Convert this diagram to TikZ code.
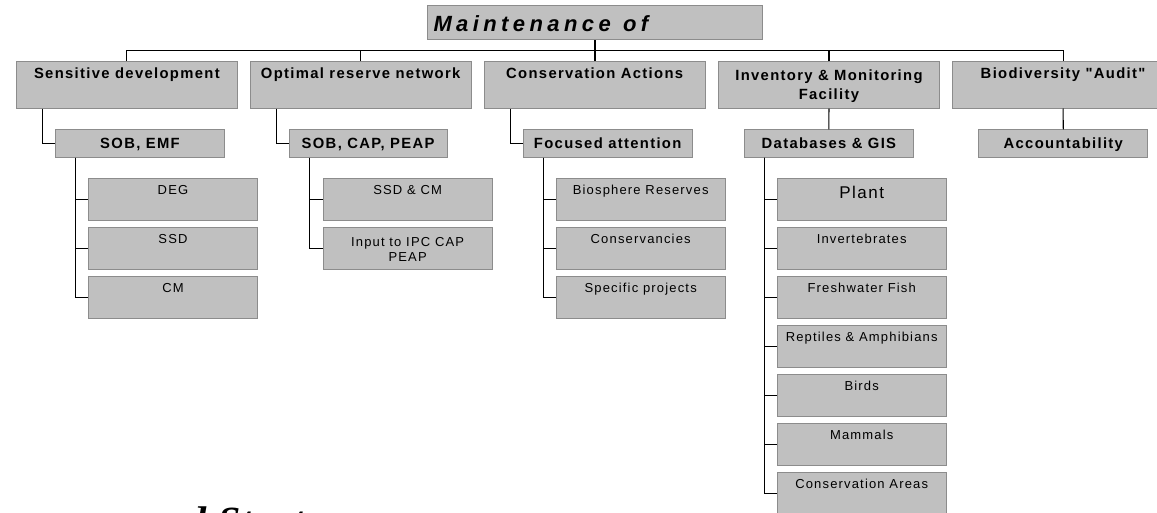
\documentclass[tikz,border=0pt]{standalone}
\usepackage{fontspec}
\usepackage{tikz}
\usetikzlibrary{positioning}
\setmainfont{Liberation Sans}
\newfontfamily\boxfont[LetterSpace=9]{Liberation Sans}
\newfontfamily\titlefont[LetterSpace=20]{Liberation Sans}
\newfontfamily\bannerfont[LetterSpace=4]{Liberation Serif}
\definecolor{ink}{RGB}{0,0,0}
\definecolor{boxgrey}{RGB}{192,192,192}
\definecolor{boxedge}{RGB}{140,140,140}
\tikzset{
    box/.style={
        draw=boxedge,
        line width=1pt,
        fill=boxgrey,
        anchor=north west,
        inner ysep=0pt,
        inner xsep=2pt,
        align=center,
        text=ink
    },
    headbox/.style={
        box,
        minimum width=334.4pt,
        text width=323pt,
        inner xsep=5.7pt,
        align=left,
        text height=25.75pt,
        text depth=8.55pt,
        font=\titlefont\bfseries\itshape\fontsize{22}{26}\selectfont
    },
    topic/.style={
        box,
        minimum width=221.3pt,
        text height=17.3pt,
        text depth=29.2pt,
        font=\boxfont\bfseries\fontsize{14.8}{19.8}\selectfont
    },
    subtopic/.style={
        box,
        minimum width=169pt,
        text height=18.6pt,
        text depth=8.8pt,
        font=\boxfont\bfseries\fontsize{14.8}{19.8}\selectfont
    },
    item/.style={
        box,
        minimum width=169pt,
        text height=16pt,
        text depth=25.7pt,
        font=\boxfont\fontsize{13}{15.5}\selectfont
    },
    link/.style={
        draw=ink,
        line width=1.1pt
    },
    banner/.style={
        text=ink,
        inner sep=0pt,
        font=\bannerfont\bfseries\itshape\fontsize{40}{44}\selectfont
    }
}

\begin{document}
\begin{tikzpicture}[x=1pt, y=-1pt]

\useasboundingbox (0,0) rectangle (1157,512);
\clip (0,0) rectangle (1157,512);
\fill[white] (0,0) rectangle (1157,512);

% Top box
\node[headbox] (title) at (427.3,5) {Maintenance\hspace{5pt} of};

% First row
\node[topic] (sens) at (15.7,61) {Sensitive development};
\node[topic] (optim) at (249.5,61) {Optimal reserve network};
\node[topic] (consact) at (483.5,61) {Conservation Actions};
\node[topic, text height=38.3pt, text depth=8.2pt] (invmon) at (717.8,61) {Inventory \& Monitoring\\Facility};
\node[topic] (audit) at (951.9,61) {Biodiversity "Audit"};

\coordinate (bus) at (0,50.7);
\draw[link] (sens.north) -- (sens.north |- bus) -- (audit.north |- bus) -- (audit.north);
\draw[link] (title.south) -- (title.south |- consact.north);
\draw[link] (optim.north) -- (optim.north |- bus);
\draw[link] (invmon.north) -- (invmon.north |- bus);

% Second row
\node[subtopic] (sobemf) at (55,129.3) {SOB, EMF};
\node[subtopic, minimum width=158pt] (sobcap) at (288.6,129.3) {SOB, CAP, PEAP};
\node[subtopic] (focus) at (522.7,129.3) {Focused attention};
\node[subtopic] (dbgis) at (743.9,129.3) {Databases \& GIS};
\node[subtopic] (account) at (978.3,129.3) {Accountability};

\draw[link] ([xshift=27pt]sens.south west) |- (sobemf.west);
\draw[link] ([xshift=27pt]optim.south west) |- (sobcap.west);
\draw[link] ([xshift=27pt]consact.south west) |- (focus.west);
\draw[link] (invmon.south) -- (dbgis.north);
\draw[link] (audit.south) -- (account.north);

% Third row, left
\node[item] (deg) at (88,178.3) {DEG};
\node[item] (ssd) at (88,227.3) {SSD};
\node[item] (cm) at (88,276.3) {CM};
\draw[link] ([xshift=20.3pt]sobemf.south west) |- (deg.west);
\draw[link] ([xshift=20.3pt]sobemf.south west) |- (ssd.west);
\draw[link] ([xshift=20.3pt]sobemf.south west) |- (cm.west);

\node[item] (ssdcm) at (322.6,178.3) {SSD \& CM};
\node[item, text height=33.7pt, text depth=8pt] (ipc) at (322.6,227.3) {Input to IPC CAP\\PEAP};
\draw[link] ([xshift=20.7pt]sobcap.south west) |- (ssdcm.west);
\draw[link] ([xshift=20.7pt]sobcap.south west) |- (ipc.west);

\node[item] (bios) at (555.7,178.3) {Biosphere Reserves};
\node[item] (consv) at (555.7,227.3) {Conservancies};
\node[item] (specific) at (555.7,276.3) {Specific projects};
\draw[link] ([xshift=20.6pt]focus.south west) |- (bios.west);
\draw[link] ([xshift=20.6pt]focus.south west) |- (consv.west);
\draw[link] ([xshift=20.6pt]focus.south west) |- (specific.west);

% Third row, databases
\node[item, font=\boxfont\fontsize{17}{20}\selectfont, text height=19.9pt, text depth=21.8pt] (plant) at (776.7,178.3) {Plant};
\node[item] (invert) at (776.7,227.3) {Invertebrates};
\node[item] (fish) at (776.7,276.3) {Freshwater Fish};
\node[item] (reptile) at (776.7,325.3) {Reptiles \& Amphibians};
\node[item] (birds) at (776.7,374.3) {Birds};
\node[item] (mammals) at (776.7,423.3) {Mammals};
\node[item] (consarea) at (776.7,472.3) {Conservation Areas};
\draw[link] ([xshift=20.4pt]dbgis.south west) |- (plant.west);
\draw[link] ([xshift=20.4pt]dbgis.south west) |- (invert.west);
\draw[link] ([xshift=20.4pt]dbgis.south west) |- (fish.west);
\draw[link] ([xshift=20.4pt]dbgis.south west) |- (reptile.west);
\draw[link] ([xshift=20.4pt]dbgis.south west) |- (birds.west);
\draw[link] ([xshift=20.4pt]dbgis.south west) |- (mammals.west);
\draw[link] ([xshift=20.4pt]dbgis.south west) |- (consarea.west);

% Cut-off heading at the bottom edge
\node[banner, anchor=base west] (banner) at (-79,534) {Programme and Strategy};

\end{tikzpicture}
\end{document}
